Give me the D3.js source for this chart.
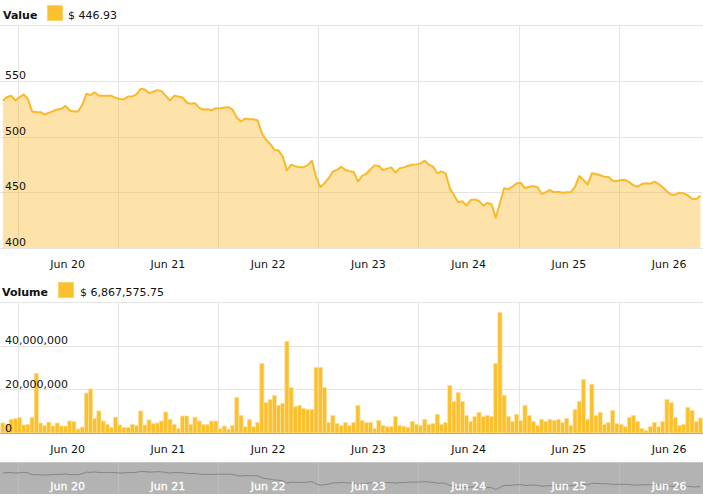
<!DOCTYPE html>
<html><head><meta charset="utf-8">
<script src="https://cdn.jsdelivr.net/npm/d3@7"></script>
<style>body{margin:0;background:#fff}svg{display:block;font-family:"DejaVu Sans",Verdana,sans-serif}</style>
</head><body><svg id="c" width="703" height="500"></svg>
<script>
// ---- data ----
const priceValues = [
532.3,535.5,536.5,532.3,535.3,537.7,533.5,522.4,521.8,521.8,
519.7,521.2,522.7,524.2,524.8,527.5,523.3,522.4,522.4,528.4,
538.3,537.1,539.5,536.5,536.5,536.5,536.5,534.7,533.5,533.5,
535.9,535.9,537.7,542.8,542.2,538.9,540.1,541.6,540.7,536.5,
532.3,536.5,535.9,535.0,530.5,529.3,529.9,525.7,524.2,524.5,
523.6,525.4,525.1,526.0,526.3,523.9,517.0,513.5,516.1,515.5,
515.5,514.3,503.0,497.0,493.4,488.0,487.4,482.1,469.5,474.6,
473.4,472.5,472.5,474.3,478.2,463.5,454.6,458.1,462.6,468.6,
470.1,
472.9,470.0,468.8,468.2,459.5,464.6,466.4,470.6,474.1,473.5,
470.0,471.2,472.3,467.6,471.5,472.3,473.8,474.7,475.0,475.9,
478.3,474.7,472.9,467.0,468.8,467.0,453.5,447.5,441.0,441.9,
438.0,443.0,443.6,442.2,438.0,440.4,439.2,427.2,440.1,453.5,
452.6,455.0,458.0,458.6,453.5,455.0,455.3,454.4,448.4,450.2,
452.0,449.9,450.5,449.6,449.9,450.2,455.0,464.6,461.0,457.1,
467.0,466.4,465.2,464.0,463.7,460.4,460.1,461.0,461.0,458.9,
456.2,455.0,457.4,458.0,457.7,459.5,457.4,454.4,450.8,447.8,
447.8,449.6,449.0,447.2,444.2,443.9,446.93
];
// volume in millions of dollars
const volumeMillions = [
4.6,4.0,6.3,6.6,7.0,3.7,4.0,7.2,27.3,4.6,
3.5,5.0,3.2,4.6,3.2,3.2,5.5,5.2,1.8,2.7,
18.3,20.2,6.6,10.1,5.5,4.0,2.6,7.3,3.7,2.6,
2.6,4.0,3.5,10.1,3.7,6.0,4.3,4.6,5.5,9.6,
6.3,4.0,2.1,7.8,7.8,4.0,7.3,5.5,4.0,4.0,
5.5,5.5,2.0,3.2,1.8,
3.4,16.3,8.1,2.9,6.3,2.9,4.9,31.9,13.9,15.4,
17.3,12.7,13.6,42.0,20.9,12.1,12.7,11.3,10.8,10.8,
30.1,30.1,20.9,4.9,8.1,4.4,3.4,4.9,3.4,4.9,
12.7,5.8,4.9,4.9,2.1,5.8,3.4,2.9,2.9,7.6,
3.5,3.1,2.6,5.3,4.0,3.5,6.3,4.0,4.4,8.6,
4.0,4.9,21.8,14.5,18.6,14.5,8.1,5.3,7.6,9.5,
7.6,8.1,7.6,31.9,55.3,17.3,7.6,5.3,8.6,5.8,
12.7,8.1,
5.3,3.5,6.3,5.3,6.3,5.8,6.3,4.9,6.7,3.5,
10.8,14.5,24.6,6.3,22.3,8.1,9.5,4.0,4.9,10.4,
4.4,4.0,2.9,7.2,8.1,5.3,2.1,1.2,2.9,4.9,
2.9,5.3,15.4,14.0,7.2,3.5,4.0,11.8,10.4,5.3,
6.8675757
];
const dayLabels = ["Jun 20","Jun 21","Jun 22","Jun 23","Jun 24","Jun 25","Jun 26"];
const priceTicks = [400,450,500,550];
const priceGrid = [400,450,500,550,600];
const volumeTicks = [0,20000000,40000000];
const volumeGrid = [0,20000000,40000000,60000000];
const valueLegend = "$ 446.93";
const volumeLegend = "$ 6,867,575.75";
const startTime = new Date(2016,5,19,20,0);

// ---- drawing ----
const HOUR = 3600e3;
const svg = d3.select("#c");
const W = 703;
const lineColor = "#F9B928";
const barColor = "#FBC02D";

const endTime = new Date(+startTime + 168*HOUR);
const x = d3.scaleTime().domain([startTime, endTime]).range([0.8, 702.5]);
const yP = d3.scaleLinear().domain([400,600]).range([248,25]);
const yV = d3.scaleLinear().domain([0,60000000]).range([433,302]);

const pts = priceValues.map((v,i)=>({t:new Date(+startTime+(i+0.5)*HOUR), v}));
const vols = volumeMillions.map((m,i)=>({t0:new Date(+startTime+i*HOUR), t1:new Date(+startTime+(i+1)*HOUR), v:m*1e6}));
const days = dayLabels.map((l,i)=>({label:l, mid:new Date(2016,5,20+i,0,0), noon:new Date(2016,5,20+i,12,0)}));
const allMid = d3.range(0,7).map(i=>new Date(2016,5,20+i));

const gridC = "#e4e4e4";
const snap = v=>Math.round(v)+0.5;

// price panel grid
const gP = svg.append("g");
gP.selectAll("line.h").data(priceGrid).join("line")
  .attr("x1",0).attr("x2",W).attr("y1",d=>snap(yP(d))).attr("y2",d=>snap(yP(d)))
  .attr("stroke",gridC);
gP.selectAll("line.v").data(allMid).join("line")
  .attr("x1",d=>snap(x(d))).attr("x2",d=>snap(x(d))).attr("y1",25).attr("y2",248)
  .attr("stroke",gridC);

// area + line
svg.append("path").datum(pts)
  .attr("d", d3.area().x(d=>x(d.t)).y0(yP(400)).y1(d=>yP(d.v)))
  .attr("fill",lineColor).attr("fill-opacity",0.4);
svg.append("path").datum(pts)
  .attr("d", d3.line().x(d=>x(d.t)).y(d=>yP(d.v)))
  .attr("fill","none").attr("stroke",lineColor).attr("stroke-width",2).attr("stroke-linejoin","round");

// price y labels
svg.append("g").selectAll("text").data(priceTicks).join("text")
  .attr("x",5).attr("y",d=>yP(d)-2).attr("font-size",11).attr("fill","#111").text(d=>d);

// price x labels
svg.append("g").selectAll("text").data(days).join("text")
  .attr("x",d=>x(d.noon)).attr("y",268).attr("text-anchor","middle")
  .attr("font-size",11).attr("fill","#111").text(d=>d.label);

// legend Value
svg.append("text").attr("x",3).attr("y",19).attr("font-size",11).attr("font-weight","bold").attr("fill","#111").text("Value");
svg.append("rect").attr("x",47.5).attr("y",5.5).attr("width",15).attr("height",15).attr("fill",barColor).attr("stroke","#fdd36e");
svg.append("text").attr("x",68).attr("y",19).attr("font-size",11).attr("fill","#111").text(valueLegend);

// volume grid
const gV = svg.append("g");
gV.selectAll("line.h").data(volumeGrid).join("line")
  .attr("x1",0).attr("x2",W).attr("y1",d=>snap(yV(d))).attr("y2",d=>snap(yV(d)))
  .attr("stroke",gridC);
gV.selectAll("line.v").data(allMid).join("line")
  .attr("x1",d=>snap(x(d))).attr("x2",d=>snap(x(d))).attr("y1",302).attr("y2",433)
  .attr("stroke",gridC);

// bars
svg.append("g").selectAll("rect").data(vols).join("rect")
  .attr("x",d=>x(d.t0)).attr("width",d=>x(d.t1)-x(d.t0))
  .attr("y",d=>yV(d.v)).attr("height",d=>yV(0)-yV(d.v))
  .attr("fill",barColor).attr("stroke","#fde3a0").attr("stroke-width",0.7);
svg.append("line").attr("x1",0).attr("x2",W).attr("y1",433.5).attr("y2",433.5).attr("stroke","#d9a832").attr("stroke-width",1);

// volume y labels
svg.append("g").selectAll("text").data(volumeTicks).join("text")
  .attr("x",5).attr("y",d=>yV(d)-1.5).attr("font-size",11).attr("fill","#111").text(d=>d3.format(",")(d));

// volume x labels
svg.append("g").selectAll("text").data(days).join("text")
  .attr("x",d=>x(d.noon)).attr("y",453).attr("text-anchor","middle")
  .attr("font-size",11).attr("fill","#111").text(d=>d.label);

// legend Volume
svg.append("text").attr("x",2).attr("y",296).attr("font-size",11).attr("font-weight","bold").attr("fill","#111").text("Volume");
svg.append("rect").attr("x",58.5).attr("y",282.5).attr("width",15).attr("height",15).attr("fill",barColor).attr("stroke","#fdd36e");
svg.append("text").attr("x",80).attr("y",296).attr("font-size",11).attr("fill","#111").text(volumeLegend);

// navigator
const nav = svg.append("g");
nav.append("rect").attr("x",0).attr("y",462).attr("width",W).attr("height",32).attr("fill","#b3b3b3");
nav.append("line").attr("x1",0).attr("x2",W).attr("y1",462.5).attr("y2",462.5).attr("stroke","#c6c6c6");
nav.selectAll("line.v").data(allMid).join("line")
  .attr("x1",d=>snap(x(d))).attr("x2",d=>snap(x(d))).attr("y1",463).attr("y2",494)
  .attr("stroke","#bdbdbd");
const yN = d3.scaleLinear().domain(d3.extent(priceValues)).range([489.5,471.5]);
nav.append("path").datum(pts)
  .attr("d", d3.line().x(d=>x(d.t)).y(d=>yN(d.v)))
  .attr("fill","none").attr("stroke","#858585").attr("stroke-width",1);
nav.selectAll("text").data(days).join("text")
  .attr("x",d=>x(d.noon)).attr("y",490).attr("text-anchor","middle")
  .attr("font-size",11).attr("fill","#fff").attr("stroke","#fff").attr("stroke-width",0.3).text(d=>d.label);
</script></body></html>
